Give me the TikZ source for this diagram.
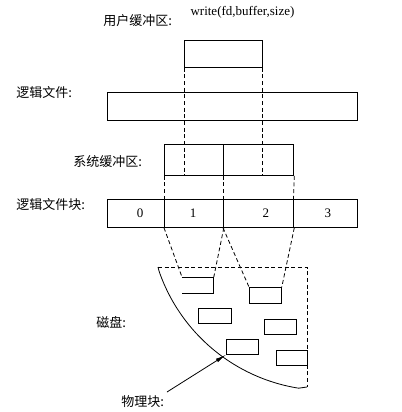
\documentclass[tikz,border=0pt]{standalone}
\usepackage{fontspec}
\setmainfont{Liberation Serif}
\newfontfamily\cjk{Noto Sans CJK SC}
\usetikzlibrary{arrows.meta}
\begin{document}
\begin{tikzpicture}[x=0.75pt,y=-0.75pt,line width=0.6pt,
  box/.style 2 args={draw, inner sep=0pt, minimum width=#1*0.75pt, minimum height=#2*0.75pt, anchor=north west},
  lab/.style={font=\cjk\fontsize{9.75}{11}\selectfont, anchor=west, inner sep=0pt},
  num/.style={font=\fontsize{9.75}{11}\selectfont, inner sep=0pt},
  link/.style={dash pattern=on 3pt off 2pt}
]
\useasboundingbox (0,0) rectangle (402,412);
% labels
\node[num] (w) at (242.5,12) {write(fd,buffer,size)};
\node[lab] (lu) at (103,21) {用户缓冲区:};
\node[lab] (lf) at (16,93) {逻辑文件:};
\node[lab] (ls) at (73,162) {系统缓冲区:};
\node[lab] (lb) at (16,205) {逻辑文件块:};
\node[lab] (ld) at (96,322) {磁盘:};
\node[lab] (lp) at (121,402) {物理块:};
% boxes
\node[box={78}{27}] (u) at (184,40) {};
\node[box={250}{28}] (f) at (107,92) {};
\node[box={59}{31}] (s1) at (164,144) {};
\node[box={70.5}{31}] (s2) at (223,144) {};
\node[box={57}{28}] (b0) at (107,199) {};
\node[box={59}{28}] (b1) at (164,199) {};
\node[box={70.5}{28}] (b2) at (223,199) {};
\node[box={63.5}{28}] (b3) at (293.5,199) {};
\node[num] (n0) at (140,213) {0};
\node[num] (n1) at (193,213) {1};
\node[num] (n2) at (266,213) {2};
\node[num] (n3) at (328,213) {3};
% disk blocks
\node[box={31}{16}, draw=none] (d1) at (182,277) {};
\draw (d1.north west) -- (d1.north east) -- (d1.south east) -- (d1.south west);
\node[box={32}{16}] (d2) at (249,287) {};
\node[box={33}{15}] (d3) at (198,308) {};
\node[box={32}{15}] (d4) at (264,319) {};
\node[box={32}{15}] (d5) at (226,339) {};
\node[box={31}{15}] (d6) at (276,350) {};
% disk outline
\coordinate (tl) at (158,267);
\coordinate (tr) at (307,267);
\coordinate (br) at (307,387);
\coordinate (c0) at (159,271);
\draw[link] (tl) -- (tr) -- (br);
\draw[link] (tl) -- (c0);
\draw (c0) arc[start angle=199, end angle=261, radius=132.75pt] -- (br);
% dashed projections
\draw[link] (u.south west) -- (u.south west |- s1.south);
\draw[link] (u.south east) -- (u.south east |- s2.south);
\draw[link] (s1.south west) -- (b1.north west);
\draw[link] (s2.south west) -- (b2.north west);
\draw[link] (s2.south east) -- (b3.north west);
\draw[link] (b1.south west) -- (d1.north west);
\draw[link] (b1.south east) -- (d1.north east);
\draw[link] (b2.south west) -- (d2.north west);
\draw[link] (b2.south east) -- (d2.north east);
% arrow
\coordinate (a0) at (167,392);
\draw[-{Latex[length=8pt,width=3pt]}] (a0) -- (d5.south west);
\end{tikzpicture}
\end{document}
